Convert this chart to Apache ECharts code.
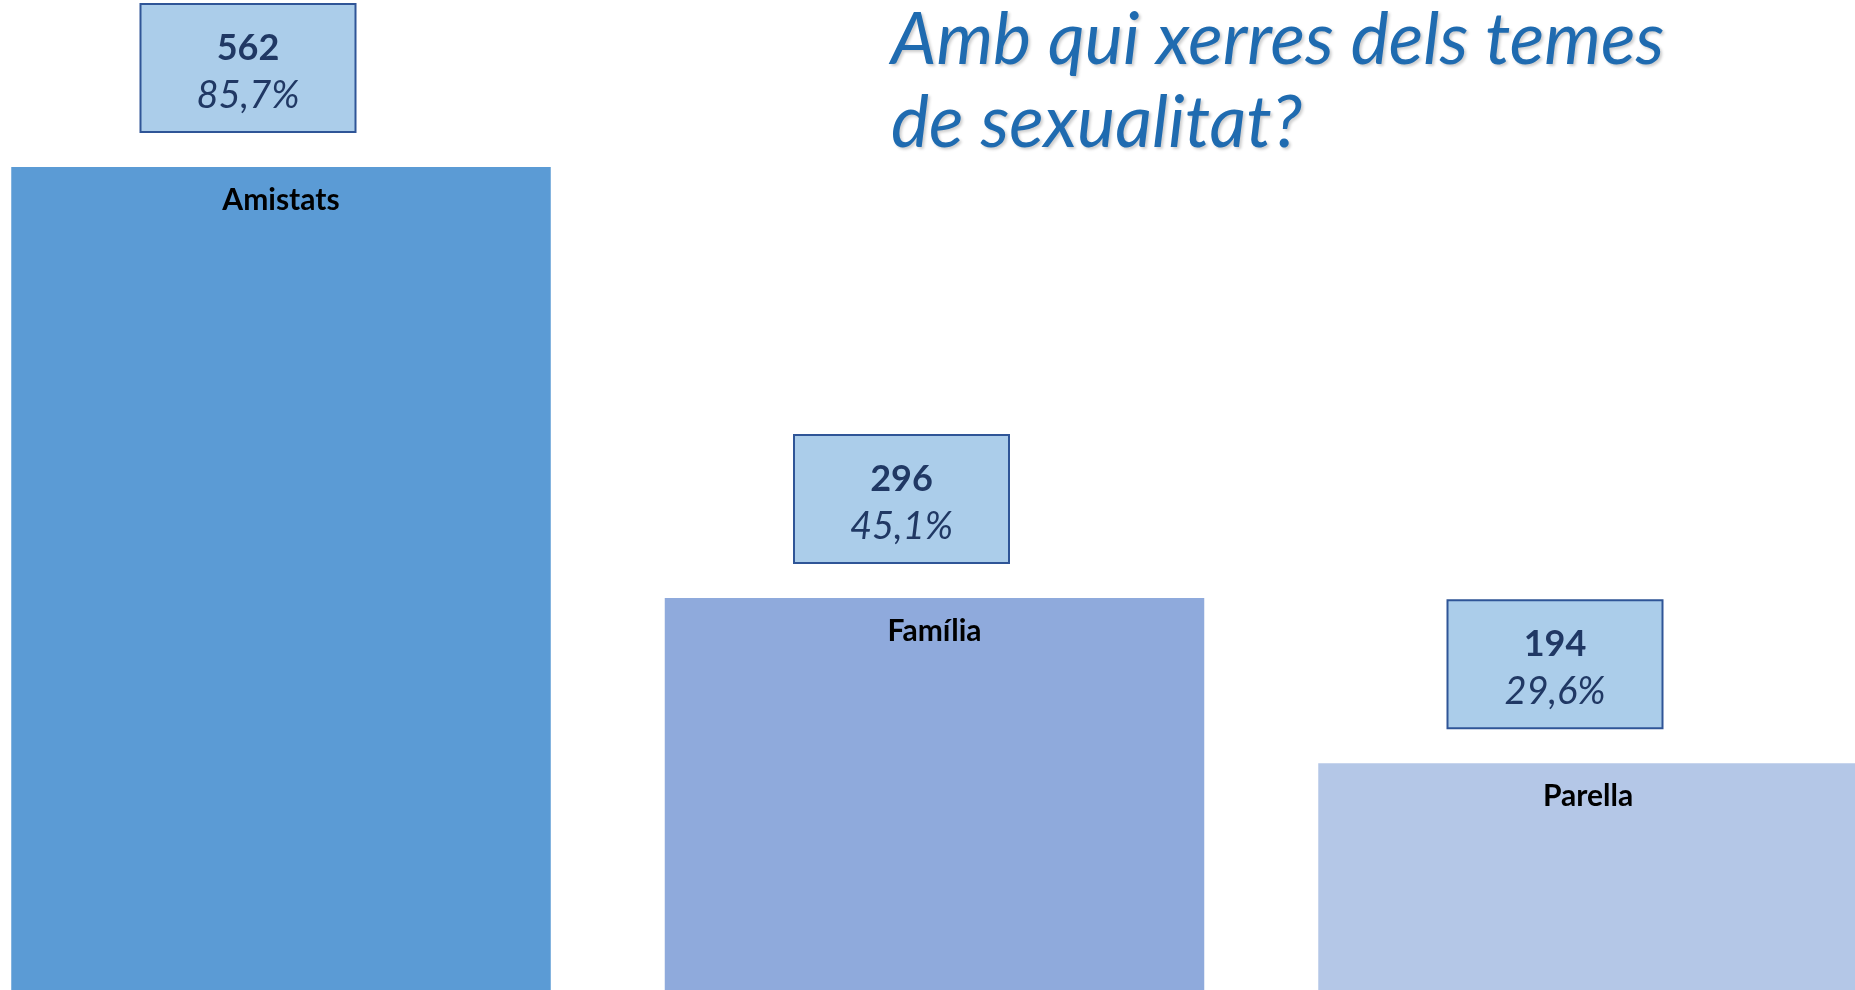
<!DOCTYPE html>
<html>
<head>
<meta charset="utf-8">
<script src="https://cdn.jsdelivr.net/npm/echarts@6/dist/echarts.min.js"></script>
<style>
html,body{margin:0;padding:0;background:#fff;}
#chart{width:1855px;height:990px;}
</style>
</head>
<body>
<div id="chart"></div>
<script>
const categories = ['Amistats', 'Família', 'Parella'];
const counts = [562, 296, 194];
const percents = ['85,7%', '45,1%', '29,6%'];
const barColors = ['#5b9bd5', '#8faadc', '#b4c7e7'];
const titleText = 'Amb qui xerres dels temes\nde sexualitat?';

const chart = echarts.init(document.getElementById('chart'));
const FONT = 'Lato, "Open Sans", sans-serif';

chart.setOption({
  animation: false,
  backgroundColor: '#ffffff',
  title: {
    text: titleText,
    left: 886,
    top: -6,
    textStyle: {
      fontFamily: FONT,
      fontStyle: 'italic',
      fontWeight: 'normal',
      fontSize: 72,
      lineHeight: 83,
      color: '#1f6bb0',
      textShadowColor: 'rgba(0,0,0,0.2)',
      textShadowBlur: 3,
      textShadowOffsetX: 2,
      textShadowOffsetY: 2
    }
  },
  grid: { left: -45.75, right: -59.75, top: 0, bottom: 0, containLabel: false, outerBoundsMode: 'none' },
  xAxis: {
    type: 'category',
    data: categories,
    show: false
  },
  yAxis: {
    type: 'value',
    min: 54,
    max: 665,
    show: false
  },
  series: [
    {
      type: 'bar',
      barWidth: 539.5,
      data: counts.map((v, i) => ({ value: v, itemStyle: { color: barColors[i] } })),
      label: {
        show: true,
        position: 'insideTop',
        distance: 18,
        formatter: p => categories[p.dataIndex],
        fontFamily: FONT,
        fontWeight: 'bold',
        fontSize: 30,
        color: '#000000'
      },
      z: 2
    },
    {
      type: 'bar',
      barWidth: 539.5,
      barGap: '-100%',
      data: counts,
      itemStyle: { color: 'rgba(0,0,0,0)' },
      label: {
        show: true,
        position: 'top',
        distance: 36,
        offset: [-33, 0],
        formatter: p => '{a|' + counts[p.dataIndex] + '}\n{b|' + percents[p.dataIndex] + '}',
        backgroundColor: '#abcdea',
        borderColor: '#2f5597',
        borderWidth: 2,
        width: 213,
        padding: [20, 0, 12, 0],
        align: 'center',
        rich: {
          a: { fontFamily: FONT, fontWeight: 'bold', fontSize: 36, lineHeight: 47, color: '#203864', align: 'center' },
          b: { fontFamily: FONT, fontStyle: 'italic', fontSize: 38, lineHeight: 47, color: '#203864', align: 'center' }
        }
      },
      z: 3
    }
  ]
});
</script>
</body>
</html>
